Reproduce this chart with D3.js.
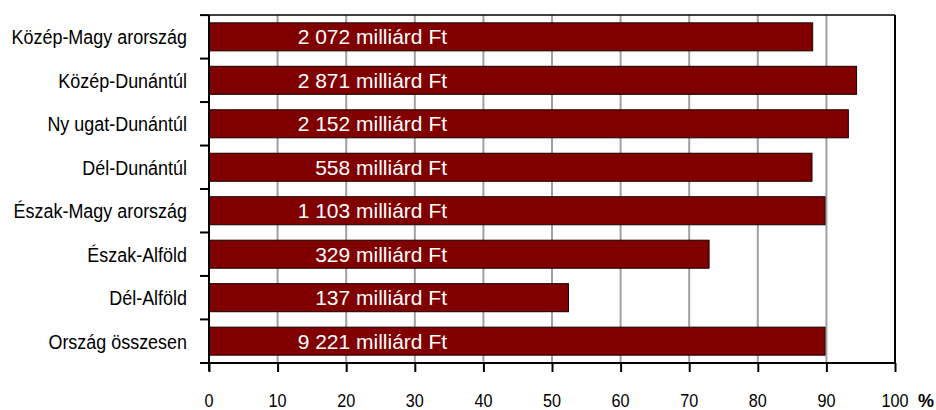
<!DOCTYPE html>
<html><head><meta charset="utf-8">
<script src="https://cdn.jsdelivr.net/npm/d3@7/dist/d3.min.js"></script>
<style>body{margin:0;background:#fff}</style>
</head><body>
<script>
const categories = ["Közép-Magy arország","Közép-Dunántúl","Ny ugat-Dunántúl","Dél-Dunántúl","Észak-Magy arország","Észak-Alföld","Dél-Alföld","Ország összesen"];
const values = [88.0, 94.4, 93.2, 87.9, 89.8, 72.9, 52.4, 89.8];
const barLabels = ["2 072 milliárd Ft","2 871 milliárd Ft","2 152 milliárd Ft","558 milliárd Ft","1 103 milliárd Ft","329 milliárd Ft","137 milliárd Ft","9 221 milliárd Ft"];
const xTicks = [0,10,20,30,40,50,60,70,80,90,100];
const unitLabel = "%";

const W = 936, H = 410;
const m = {left:209, right:41, top:15, bottom:47};
const iw = W - m.left - m.right, ih = H - m.top - m.bottom;
const font = "'Liberation Sans', Arial, sans-serif";

const svg = d3.select("body").append("svg").attr("width", W).attr("height", H);
const g = svg.append("g").attr("transform", `translate(${m.left},${m.top})`);

const x = d3.scaleLinear().domain([0,100]).range([0, iw]);
const y = d3.scaleBand().domain(categories).range([0, ih]).paddingInner(0.355).paddingOuter(0.18);

// gridlines
g.selectAll(".grid").data(xTicks.filter(t => t > 0 && t < 100)).enter().append("line")
  .attr("x1", d => x(d)).attr("x2", d => x(d)).attr("y1", 0).attr("y2", ih)
  .attr("stroke", "#a0a0a0").attr("stroke-width", 2);

// frame top/right
g.append("line").attr("x1", 0).attr("x2", iw).attr("y1", 0).attr("y2", 0).attr("stroke", "#000").attr("stroke-width", 1.5);
g.append("line").attr("x1", iw).attr("x2", iw).attr("y1", 0).attr("y2", ih).attr("stroke", "#000").attr("stroke-width", 2);

// bars
g.selectAll(".bar").data(categories).enter().append("rect")
  .attr("x", 0).attr("y", d => y(d)).attr("height", y.bandwidth())
  .attr("width", (d,i) => x(values[i]))
  .attr("fill", "#800000").attr("stroke", "#1a0000").attr("stroke-width", 1);

// bar labels
g.selectAll(".bl").data(categories).enter().append("text")
  .attr("transform", (d,i) => `translate(${x(34.7)},${y(d) + y.bandwidth()/2 + 7.5}) scale(1.0,1)`)
  .attr("text-anchor", "end").attr("fill", "#fff")
  .style("font-family", font).style("font-size", "21px")
  .text((d,i) => barLabels[i]);

// left axis
const yAxis = d3.axisLeft(y).tickSize(0).tickFormat("");
const ya = g.append("g").call(yAxis);
ya.select(".domain").remove();
g.append("line").attr("x1", 0).attr("x2", 0).attr("y1", 0).attr("y2", ih + 8).attr("stroke", "#000").attr("stroke-width", 2);
const sep = categories.map(c => y(c) - y.step()*y.paddingInner()/2);
sep.push(ih);
g.selectAll(".sep").data(sep).enter().append("line")
  .attr("x1", -9).attr("x2", 0).attr("y1", d => d).attr("y2", d => d)
  .attr("stroke", "#000").attr("stroke-width", 2);

// category labels
g.selectAll(".cl").data(categories).enter().append("text")
  .attr("transform", d => `translate(-22,${y(d) + y.bandwidth()/2 + 7.5}) scale(0.855,1)`)
  .attr("text-anchor", "end").attr("fill", "#000")
  .style("font-family", font).style("font-size", "21px")
  .text(d => d);

// bottom axis
const xAxis = d3.axisBottom(x).tickValues(xTicks).tickSize(9).tickFormat("");
const xa = g.append("g").attr("transform", `translate(0,${ih})`).call(xAxis);
xa.select(".domain").remove();
xa.selectAll(".tick line").attr("stroke", "#000").attr("stroke-width", 2);
g.append("line").attr("x1", -9).attr("x2", iw).attr("y1", ih).attr("y2", ih).attr("stroke", "#000").attr("stroke-width", 2);

g.selectAll(".xl").data(xTicks).enter().append("text")
  .attr("transform", d => `translate(${x(d)},${ih + 44}) scale(0.9,1)`)
  .attr("text-anchor", "middle").attr("fill", "#000")
  .style("font-family", font).style("font-size", "18px")
  .text(d => d);

g.append("text").attr("x", x(100) + 31).attr("y", ih + 44)
  .attr("text-anchor", "middle").attr("fill", "#000")
  .style("font-family", font).style("font-size", "18px").style("font-weight", "bold")
  .text(unitLabel);
</script>
</body></html>
